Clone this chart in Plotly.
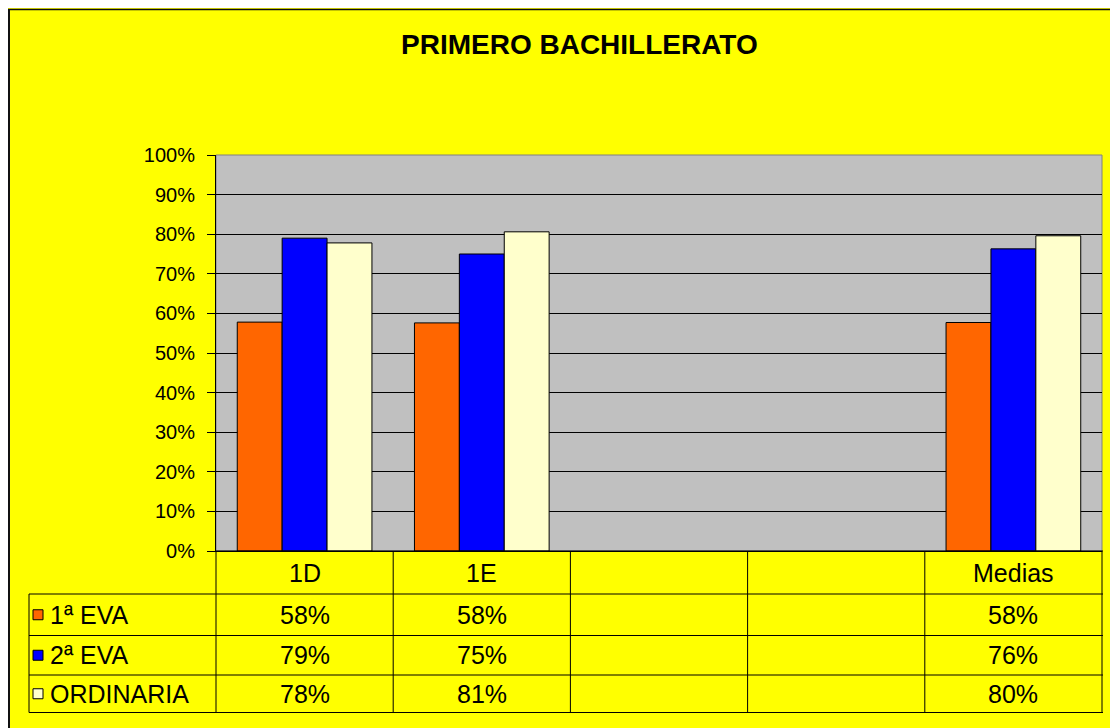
import plotly.graph_objects as go

# ---- data ----
categories = ["1D", "1E", "", "", "Medias"]
series_names = ["1ª EVA", "2ª EVA", "ORDINARIA"]
eva1 = [0.578, 0.576, None, None, 0.577]
eva2 = [0.790, 0.750, None, None, 0.763]
ordinaria = [0.778, 0.806, None, None, 0.796]
y_ticks = [0, 0.1, 0.2, 0.3, 0.4, 0.5, 0.6, 0.7, 0.8, 0.9, 1.0]
title_text = "PRIMERO BACHILLERATO"

series_values = [eva1, eva2, ordinaria]
colors = ["#FF6600", "#0000FF", "#FFFFCC"]

W, H = 1118, 728
OFF = 8  # page body margin
# plot area in screen pixels
SX0, SX1, SY0, SY1 = 216, 1102, 155, 551
L, T = SX0 - OFF, SY0 - OFF
R, B = W - (SX1 - OFF), H - (SY1 - OFF)
PW, PH = SX1 - SX0, SY1 - SY0
FONT = "Arial, Liberation Sans, sans-serif"
TABLE_FS = 25


def px(x):
    return (x - SX0) / PW


def py(y):
    return (SY1 - y) / PH


n = len(categories)
xs = list(range(n))

fig = go.Figure()
for name, vals, col in zip(series_names, series_values, colors):
    fig.add_trace(go.Bar(
        x=xs, y=vals, name=name,
        marker=dict(color=col, line=dict(color="black", width=1)),
        showlegend=False,
    ))

shapes = []
annotations = []

# chart frame (left & top edges)
shapes.append(dict(type="line", xref="paper", yref="paper",
                   x0=px(OFF + 1), x1=px(OFF + 1), y0=py(OFF + 1), y1=py(H + 40),
                   line=dict(color="#111111", width=2)))
shapes.append(dict(type="line", xref="paper", yref="paper",
                   x0=px(OFF), x1=px(W + 40), y0=py(OFF + 1.5), y1=py(OFF + 1.5),
                   line=dict(color="#111111", width=1.5)))

# plot area border
shapes.append(dict(type="rect", xref="paper", yref="paper",
                   x0=0, x1=1, y0=0, y1=1,
                   line=dict(color="#808080", width=1), layer="below"))

# data table
row_bounds = [551, 594, 635.5, 675, 712.5]
table_left = 29
for i, yb in enumerate(row_bounds):
    x0 = 0 if i == 0 else px(table_left)
    shapes.append(dict(type="line", xref="paper", yref="paper",
                       x0=x0, x1=px(SX1 + 1), y0=py(yb), y1=py(yb),
                       line=dict(color="black", width=1)))
for i in range(n + 1):
    shapes.append(dict(type="line", xref="paper", yref="paper",
                       x0=i / n, x1=i / n, y0=py(row_bounds[0]), y1=py(row_bounds[-1]),
                       line=dict(color="black", width=1)))
shapes.append(dict(type="line", xref="paper", yref="paper",
                   x0=px(table_left), x1=px(table_left),
                   y0=py(row_bounds[1]), y1=py(row_bounds[-1]),
                   line=dict(color="black", width=1)))

# header row
hdr_c = (row_bounds[0] + row_bounds[1]) / 2
for i, c in enumerate(categories):
    if c:
        annotations.append(dict(x=i, xref="x", y=py(hdr_c), yref="paper",
                                text=c, showarrow=False,
                                font=dict(family=FONT, size=TABLE_FS, color="black"),
                                xanchor="center", yanchor="middle"))

# series rows
for r, (name, vals, col) in enumerate(zip(series_names, series_values, colors)):
    yc = (row_bounds[r + 1] + row_bounds[r + 2]) / 2
    shapes.append(dict(type="rect", xref="paper", yref="paper",
                       x0=px(33), x1=px(43), y0=py(yc + 5), y1=py(yc - 5),
                       fillcolor=col, line=dict(color="black", width=1)))
    annotations.append(dict(x=px(48), xref="paper", y=py(yc), yref="paper",
                            text=name, showarrow=False,
                            font=dict(family=FONT, size=TABLE_FS, color="black"),
                            xanchor="left", yanchor="middle"))
    for i, v in enumerate(vals):
        if v is not None:
            annotations.append(dict(x=i, xref="x", y=py(yc), yref="paper",
                                    text=f"{v:.0%}", showarrow=False,
                                    font=dict(family=FONT, size=TABLE_FS, color="black"),
                                    xanchor="center", yanchor="middle"))

# title
annotations.append(dict(x=px(579.5), xref="paper", y=py(44), yref="paper",
                        text=f"<b>{title_text}</b>", showarrow=False,
                        font=dict(family=FONT, size=28, color="black"),
                        xanchor="center", yanchor="middle"))

fig.update_layout(
    width=W, height=H,
    margin=dict(l=L, r=R, t=T, b=B, pad=0),
    paper_bgcolor="#FFFF00",
    plot_bgcolor="#C0C0C0",
    barmode="group",
    bargap=0.24,
    bargroupgap=0,
    shapes=shapes,
    annotations=annotations,
    font=dict(family=FONT, color="black"),
    xaxis=dict(range=[-0.5, n - 0.5], showticklabels=False, showgrid=False,
               zeroline=False, showline=True, linecolor="black", linewidth=1,
               ticks="", fixedrange=True),
    yaxis=dict(range=[0, 1], tickvals=y_ticks, tickformat=".0%",
               showgrid=True, gridcolor="black", gridwidth=1,
               zeroline=False, showline=True, linecolor="black", linewidth=1,
               ticks="outside", ticklen=8, tickcolor="black", tickwidth=1,
               ticklabelstandoff=8,
               tickfont=dict(family=FONT, size=20, color="black"),
               fixedrange=True),
)

fig.write_html("out.html")
